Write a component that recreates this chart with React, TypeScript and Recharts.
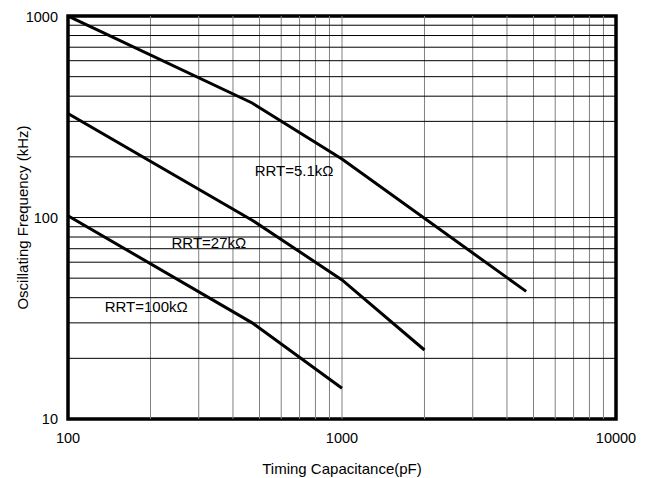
import React from 'react';
import { LineChart, Line, XAxis, YAxis, ReferenceLine, ReferenceArea } from 'recharts';

const xTicks = [100, 1000, 10000];
const yTicks = [10, 100, 1000];
const xGrid = [200, 300, 400, 500, 600, 700, 800, 900, 1000, 2000, 3000, 4000, 5000, 6000, 7000, 8000, 9000];
const yGrid = [20, 30, 40, 50, 60, 70, 80, 90, 100, 200, 300, 400, 500, 600, 700, 800, 900];

const rrt5k1 = [
  { c: 100, f: 1000 },
  { c: 470, f: 370 },
  { c: 1000, f: 195 },
  { c: 4700, f: 43 },
];
const rrt27k = [
  { c: 100, f: 328 },
  { c: 470, f: 97 },
  { c: 1000, f: 49 },
  { c: 2000, f: 22 },
];
const rrt100k = [
  { c: 100, f: 102 },
  { c: 470, f: 30 },
  { c: 1000, f: 14.2 },
];

const seriesLabels = ['RRT=5.1kΩ', 'RRT=27kΩ', 'RRT=100kΩ'];

// label boxes (data coordinates)
const labelBoxes = [
  { x1: 466, x2: 959, y1: 150, y2: 195 },
  { x1: 222, x2: 481, y1: 64.4, y2: 87.7 },
  { x1: 131, x2: 284, y1: 32.8, y2: 39.4 },
];

const FONT = '"Liberation Sans", Arial, sans-serif';

export default function App() {
  return (
    <div style={{ fontFamily: FONT }}>
      <LineChart
        width={642}
        height={470}
        margin={{ top: 8, right: 34, bottom: 0, left: 0 }}
      >
        <XAxis
          dataKey="c"
          type="number"
          scale="log"
          domain={[100, 10000]}
          ticks={xTicks}
          allowDataOverflow
          axisLine={false}
          tickLine={false}
          tickMargin={8}
          height={59}
          tick={{ fontSize: 14.5, fill: '#000', fontFamily: FONT }}
          label={{
            value: 'Timing Capacitance(pF)',
            position: 'insideBottom',
            offset: 4,
            fill: '#000',
            fontSize: 15,
            fontFamily: FONT,
          }}
        />
        <YAxis
          dataKey="f"
          type="number"
          scale="log"
          domain={[10, 1000]}
          ticks={yTicks}
          allowDataOverflow
          axisLine={false}
          tickLine={false}
          tickMargin={4}
          width={60}
          tick={{ fontSize: 14.5, fill: '#000', fontFamily: FONT }}
          label={{
            content: () => (
              <text
                x={14}
                y={209.5}
                transform="rotate(-90 14 209.5)"
                textAnchor="middle"
                dominantBaseline="central"
                fontSize={15}
                fill="#000"
                fontFamily={FONT}
              >
                Oscillating Frequency (kHz)
              </text>
            ),
          }}
        />
        {xGrid.map((v) => (
          <ReferenceLine key={'vx' + v} x={v} stroke="#808080" strokeWidth={1} ifOverflow="hidden" />
        ))}
        {yGrid.map((v) => (
          <ReferenceLine key={'hy' + v} y={v} stroke="#000" strokeWidth={1} ifOverflow="hidden" />
        ))}
        {labelBoxes.map((b, i) => (
          <ReferenceArea
            key={'lb' + i}
            x1={b.x1}
            x2={b.x2}
            y1={b.y1}
            y2={b.y2}
            fill="#fff"
            fillOpacity={1}
            stroke="none"
            ifOverflow="visible"
            label={{
              value: seriesLabels[i],
              position: 'center',
              fill: '#000',
              fontSize: 15,
              fontFamily: FONT,
            }}
          />
        ))}
        <Line data={rrt5k1} dataKey="f" stroke="#000" strokeWidth={3} dot={false} isAnimationActive={false} />
        <Line data={rrt27k} dataKey="f" stroke="#000" strokeWidth={3} dot={false} isAnimationActive={false} />
        <Line data={rrt100k} dataKey="f" stroke="#000" strokeWidth={3} dot={false} isAnimationActive={false} />
        <ReferenceArea
          x1={100}
          x2={10000}
          y1={10}
          y2={1000}
          fill="none"
          stroke="#000"
          strokeWidth={3.5}
          ifOverflow="visible"
        />
      </LineChart>
    </div>
  );
}
